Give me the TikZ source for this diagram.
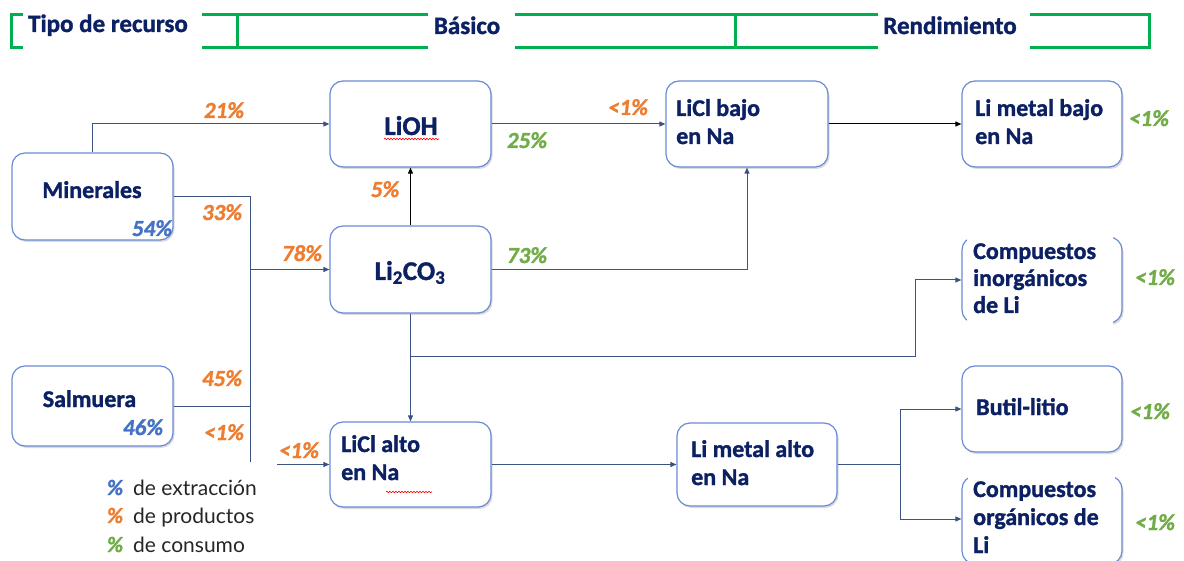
\documentclass[tikz,border=0pt]{standalone}
\usepackage{fontspec}
\setmainfont{Carlito}[BoldFeatures={FakeBold=1.3},BoldItalicFeatures={FakeBold=1.2}]
\newfontfamily\legfont{Lato}
\usetikzlibrary{shadows,arrows.meta,decorations.pathmorphing}
\definecolor{navy}{HTML}{0C2163}
\definecolor{boxc}{HTML}{6A8AD4}
\definecolor{linec}{HTML}{3C5280}
\definecolor{hgreen}{HTML}{00B050}
\definecolor{po}{HTML}{ED7D31}
\definecolor{pg}{HTML}{70AD47}
\definecolor{pb}{HTML}{4472C4}
\definecolor{legc}{HTML}{262626}
\tikzset{
  box/.style={draw=boxc, line width=1.2pt, rounded corners=13pt, fill=white,
    drop shadow={opacity=0.28, shadow xshift=1.5pt, shadow yshift=-2pt},
    minimum width=161pt, minimum height=86pt, inner sep=0pt},
  ntext/.style={font=\bfseries\fontsize{24}{28}\selectfont, text=navy, inner sep=0pt, align=left, anchor=base west},
  ctext/.style={font=\bfseries\fontsize{24}{28}\selectfont, text=navy, inner sep=0pt, anchor=base},
  bigtext/.style={font=\bfseries\fontsize{27}{30}\selectfont, text=navy, inner sep=0pt, anchor=base},
  pct/.style={font=\bfseries\itshape\fontsize{23}{23}\selectfont, inner sep=0pt, anchor=base},
  conn/.style={draw=linec, line width=1pt, -{Triangle[length=6pt,width=5pt]}},
  connk/.style={draw=black, line width=1pt, -{Triangle[length=6pt,width=5pt]}},
  lin/.style={draw=linec, line width=1pt},
  hdr/.style={draw=hgreen, line width=3pt},
  hbg/.style={fill=white, inner sep=0pt},
  htext/.style={font=\bfseries\fontsize{25}{25}\selectfont, text=navy, inner sep=0pt, anchor=base},
  wavy/.style={draw=red, line width=0.6pt, decorate, decoration={snake, segment length=3pt, amplitude=0.8pt}},
  legtext/.style={font=\legfont\fontsize{21}{21}\selectfont, text=legc, inner sep=0pt, anchor=base west},
  legpct/.style={font=\bfseries\itshape\fontsize{22}{22}\selectfont, inner sep=0pt, anchor=base}
}
\begin{document}
\begin{tikzpicture}[x=1pt,y=-1pt]
\path[use as bounding box] (0,0) rectangle (1184,561);
\clip (0,0) rectangle (1184,561);
\fill[white] (0,0) rectangle (1184,561);

% header
\draw[hdr] (11,15) rectangle (1149,48);
\draw[hdr] (237,15) -- (237,48);
\draw[hdr] (735,15) -- (735,48);
\node[hbg, minimum width=179pt, minimum height=39pt] (h1bg) at (112.5,32.5) {};
\node[hbg, minimum width=87pt, minimum height=37pt] (h2bg) at (471.5,31.5) {};
\node[hbg, minimum width=152pt, minimum height=37pt] (h3bg) at (954,31.5) {};
\node[htext] (h1) at (108,32) {Tipo de recurso};
\node[htext] (h2) at (467,34) {Básico};
\node[htext] (h3) at (950,34) {Rendimiento};

% boxes
\node[box, minimum height=87pt] (min) at (92.5,196.5) {};
\node[box, minimum height=80pt] (sal) at (92.5,406) {};
\node[box] (lioh) at (410.5,124) {};
\node[box, minimum height=87pt] (lic) at (410.5,269.5) {};
\node[box, minimum width=162pt] (lclb) at (747,124) {};
\node[box, minimum width=160pt] (lmb) at (1042,124) {};
\node[box, minimum width=160pt, minimum height=86pt] (cinorg) at (1042,280) {};
\node[box, minimum height=85pt] (lcla) at (410.5,464.5) {};
\node[box, minimum width=160pt, minimum height=83pt] (lma) at (757,464.5) {};
\node[box, minimum width=160pt] (butil) at (1042,409) {};
\node[box, minimum width=160pt, minimum height=88pt] (corg) at (1042,520) {};

% white text backgrounds covering box edges
\node[hbg, minimum width=146pt, minimum height=96pt] (cinorgbg) at (1040,283) {};
\node[hbg, minimum width=147pt, minimum height=90pt] (corgbg) at (1041,519) {};

% box texts
\node[ctext] (mint) at (92,198) {Minerales};
\node[ctext] (salt) at (89.5,407) {Salmuera};
\node[bigtext] (lioht) at (411,135) {LiOH};
\node[bigtext] (lict) at (410,280) {Li\textsubscript{2}CO\textsubscript{3}};
\node[ntext] (lclbt) at (676,144) {LiCl bajo\\en Na};
\node[ntext] (lmbt) at (975,144) {Li metal bajo\\en Na};
\node[ntext, font=\bfseries\fontsize{24}{27}\selectfont] (cinorgt) at (973,313) {Compuestos\\inorgánicos\\de Li};
\node[ntext] (lclat) at (341,480) {LiCl alto\\en Na};
\node[ntext] (lmat) at (691,485) {Li metal alto\\en Na};
\node[ntext] (butilt) at (976,415) {Butil-litio};
\node[ntext, font=\bfseries\fontsize{24}{28}\selectfont] (corgt) at (973,553) {Compuestos\\orgánicos de\\Li};

% spell-check underlines
\draw[wavy] (384,139) -- (439,139);
\draw[wavy] (386,492) -- (432,492);

% connectors
\coordinate (busb) at (250,464.5);
\coordinate (br) at (410.5,357);
\coordinate (brx) at (915,357);
\coordinate (lmax) at (900,464.5);
\draw[conn] (min.north) |- (lioh.west);
\draw[lin] (min.east) -| (busb);
\draw[conn] (busb |- lic.west) -- (lic.west);
\draw[lin] (sal.east) -- (sal.east -| busb);
\draw[conn] (busb) -- (lcla.west);
\draw[conn] (lioh.east) -- (lclb.west);
\draw[connk] (lic.north) -- (lioh.south);
\draw[conn] (lic.east) -| (lclb.south);
\draw[conn] (lic.south) -- (lcla.north);
\draw[conn] (br) -- (brx) |- (cinorg.west);
\draw[connk] (lclb.east) -- (lmb.west);
\draw[conn] (lcla.east) -- (lma.west);
\draw[lin] (lma.east) -- (lmax);
\draw[conn] (lmax) |- (butil.west);
\draw[conn] (lmax) |- ([yshift=1pt]corg.west);

% legend background (covers bus corner)
\fill[white] (100,462) rectangle (277,561);
\node[legpct, text=pb] (lp1) at (115,495) {\%};
\node[legpct, text=po] (lp2) at (115,523) {\%};
\node[legpct, text=pg] (lp3) at (115,552) {\%};
\node[legtext] (lt1) at (133,495) {de extracción};
\node[legtext] (lt2) at (133,523) {de productos};
\node[legtext] (lt3) at (133,552) {de consumo};

% percentages
\node[pct, text=pb] (p54) at (152,236) {54\%};
\node[pct, text=pb] (p46) at (143,435) {46\%};
\node[pct, text=po] (p21) at (224,118) {21\%};
\node[pct, text=po] (p33) at (222,220) {33\%};
\node[pct, text=po] (p78) at (302,261) {78\%};
\node[pct, text=po] (p45) at (222,386) {45\%};
\node[pct, text=po] (p1a) at (224,440) {<1\%};
\node[pct, text=po] (p1b) at (299,458) {<1\%};
\node[pct, text=po] (p5) at (385,197) {5\%};
\node[pct, text=po] (p1c) at (628,115) {<1\%};
\node[pct, text=pg] (p25) at (527,148) {25\%};
\node[pct, text=pg] (p73) at (527,263) {73\%};
\node[pct, text=pg] (g1) at (1149,126) {<1\%};
\node[pct, text=pg] (g2) at (1155,285) {<1\%};
\node[pct, text=pg] (g3) at (1150,419) {<1\%};
\node[pct, text=pg] (g4) at (1155,530) {<1\%};
\end{tikzpicture}
\end{document}
